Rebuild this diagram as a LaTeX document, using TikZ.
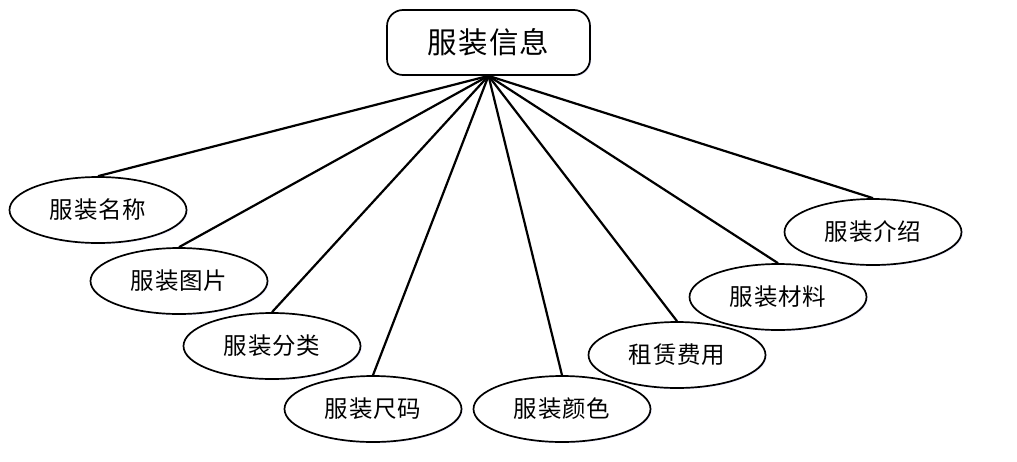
\documentclass[tikz,border=0pt]{standalone}
\usepackage{fontspec}
\newfontfamily\cjk[LetterSpace=4]{Noto Sans CJK SC}
\usetikzlibrary{shapes.geometric,shadows}
\begin{document}
\begin{tikzpicture}[x=1pt,y=-1pt,
  attr/.style={ellipse,draw=black,line width=1.7pt,fill=white,minimum width=177pt,minimum height=66pt,inner sep=0pt,
    font=\cjk\fontsize{23.5}{26}\selectfont,
    drop shadow={shadow xshift=1.2pt,shadow yshift=-1.2pt,fill=blue!25,opacity=0.35}},
  ent/.style={rectangle,rounded corners=16pt,draw=black,line width=1.7pt,fill=white,minimum width=203pt,minimum height=65pt,inner sep=0pt,
    font=\cjk\fontsize{29.5}{32}\selectfont,
    drop shadow={shadow xshift=1.2pt,shadow yshift=-1.2pt,fill=blue!25,opacity=0.35}},
  conn/.style={line width=2.2pt,draw=black}]
\useasboundingbox (0,0) rectangle (1017,461);
\node[ent] (top) at (488.5,42.5) {服装信息};
\node[attr] (e1) at (98,210) {服装名称};
\node[attr] (e2) at (179,281) {服装图片};
\node[attr] (e3) at (272,346) {服装分类};
\node[attr] (e4) at (373,409) {服装尺码};
\node[attr] (e5) at (562,409) {服装颜色};
\node[attr] (e6) at (677,355) {租赁费用};
\node[attr] (e7) at (778,297) {服装材料};
\node[attr] (e8) at (873,232) {服装介绍};
\foreach \n in {e1,e2,e3,e4,e5,e6,e7,e8}{
  \draw[conn] (top.south) -- (\n.north);
}
\end{tikzpicture}
\end{document}
